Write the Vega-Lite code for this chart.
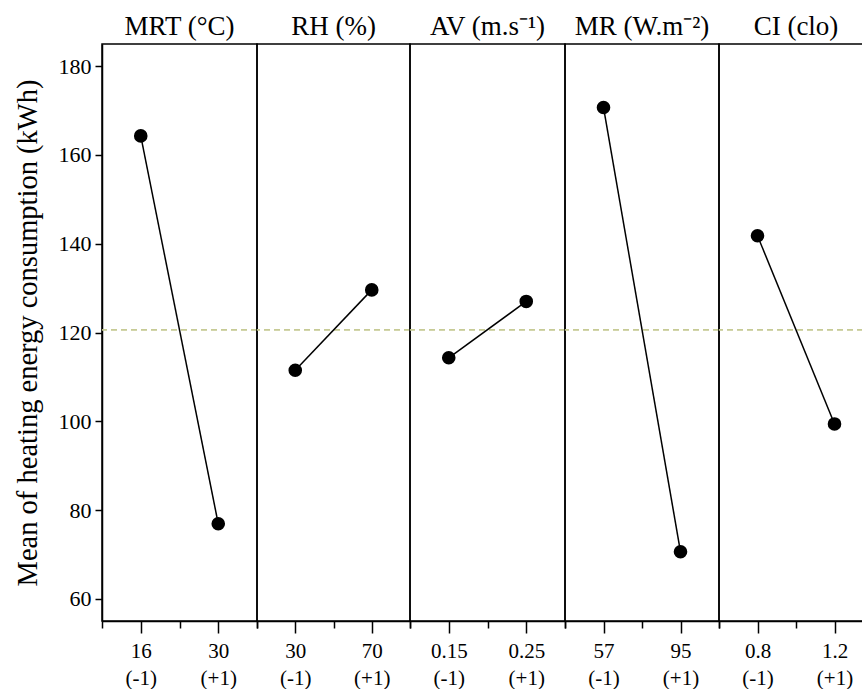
{
  "$schema": "https://vega.github.io/schema/vega-lite/v6.json",
  "background": "white",
  "padding": {"left": 12, "top": 12, "right": 0, "bottom": 0},
  "spacing": 0,
  "bounds": "flush",
  "datasets": {
    "effects": [
      {"factor": "MRT", "code": -1, "level": "16", "value": 164.3},
      {"factor": "MRT", "code": 1, "level": "30", "value": 76.9},
      {"factor": "RH", "code": -1, "level": "30", "value": 111.5},
      {"factor": "RH", "code": 1, "level": "70", "value": 129.6},
      {"factor": "AV", "code": -1, "level": "0.15", "value": 114.3},
      {"factor": "AV", "code": 1, "level": "0.25", "value": 127.0},
      {"factor": "MR", "code": -1, "level": "57", "value": 170.7},
      {"factor": "MR", "code": 1, "level": "95", "value": 70.6},
      {"factor": "CI", "code": -1, "level": "0.8", "value": 141.8},
      {"factor": "CI", "code": 1, "level": "1.2", "value": 99.4}
    ]
  },
  "data": {"name": "effects"},
  "hconcat": [
    {
      "width": 155, "height": 577,
      "title": {"text": "MRT (°C)"},
      "transform": [{"filter": "datum.factor == 'MRT'"}],
      "encoding": {
        "x": {"field": "code", "type": "quantitative", "scale": {"domain": [-2, 2]},
              "axis": {"values": [-1, 1], "title": null, "tickSize": 12, "labelExpr": "datum.value < 0 ? ['16', '(-1)'] : ['30', '(+1)']"}},
        "y": {"field": "value", "type": "quantitative", "scale": {"domain": [55, 185], "nice": false, "zero": false},
              "axis": {"values": [60, 80, 100, 120, 140, 160, 180], "title": "Mean of heating energy consumption (kWh)", "tickSize": 7, "titlePadding": 16}}
      },
      "layer": [
        {"mark": {"type": "rule", "color": "#c3c790", "strokeDash": [6, 4], "strokeWidth": 1.2},
         "encoding": {"x": null, "y": {"datum": 120.6, "type": "quantitative",
              "axis": {"values": [60, 80, 100, 120, 140, 160, 180], "title": "Mean of heating energy consumption (kWh)", "tickSize": 7, "titlePadding": 16}}}},
        {"mark": {"type": "line", "color": "black", "strokeWidth": 1.5}},
        {"mark": {"type": "point", "filled": true, "color": "black", "size": 185, "opacity": 1},
         "encoding": {"x": {"field": "code", "type": "quantitative", "axis": {"values": [-2, 0, 2], "title": null, "labels": false, "domain": false, "tickSize": 7, "orient": "bottom"}}}}
      ],
      "resolve": {"axis": {"x": "independent"}}
    },
    {
      "width": 153, "height": 577,
      "title": {"text": "RH (%)"},
      "transform": [{"filter": "datum.factor == 'RH'"}],
      "encoding": {
        "x": {"field": "code", "type": "quantitative", "scale": {"domain": [-2, 2]},
              "axis": {"values": [-1, 1], "title": null, "tickSize": 12, "labelExpr": "datum.value < 0 ? ['30', '(-1)'] : ['70', '(+1)']"}},
        "y": {"field": "value", "type": "quantitative", "scale": {"domain": [55, 185], "nice": false, "zero": false}, "axis": null}
      },
      "layer": [
        {"mark": {"type": "rule", "color": "#c3c790", "strokeDash": [6, 4], "strokeWidth": 1.2},
         "encoding": {"x": null, "y": {"datum": 120.6, "type": "quantitative", "axis": null}}},
        {"mark": {"type": "line", "color": "black", "strokeWidth": 1.5}},
        {"mark": {"type": "point", "filled": true, "color": "black", "size": 185, "opacity": 1},
         "encoding": {"x": {"field": "code", "type": "quantitative", "axis": {"values": [-2, 0, 2], "title": null, "labels": false, "domain": false, "tickSize": 7, "orient": "bottom"}}}}
      ],
      "resolve": {"axis": {"x": "independent"}}
    },
    {
      "width": 155, "height": 577,
      "title": {"text": "AV (m.s⁻¹)"},
      "transform": [{"filter": "datum.factor == 'AV'"}],
      "encoding": {
        "x": {"field": "code", "type": "quantitative", "scale": {"domain": [-2, 2]},
              "axis": {"values": [-1, 1], "title": null, "tickSize": 12, "labelExpr": "datum.value < 0 ? ['0.15', '(-1)'] : ['0.25', '(+1)']"}},
        "y": {"field": "value", "type": "quantitative", "scale": {"domain": [55, 185], "nice": false, "zero": false}, "axis": null}
      },
      "layer": [
        {"mark": {"type": "rule", "color": "#c3c790", "strokeDash": [6, 4], "strokeWidth": 1.2},
         "encoding": {"x": null, "y": {"datum": 120.6, "type": "quantitative", "axis": null}}},
        {"mark": {"type": "line", "color": "black", "strokeWidth": 1.5}},
        {"mark": {"type": "point", "filled": true, "color": "black", "size": 185, "opacity": 1},
         "encoding": {"x": {"field": "code", "type": "quantitative", "axis": {"values": [-2, 0, 2], "title": null, "labels": false, "domain": false, "tickSize": 7, "orient": "bottom"}}}}
      ],
      "resolve": {"axis": {"x": "independent"}}
    },
    {
      "width": 154, "height": 577,
      "title": {"text": "MR (W.m⁻²)"},
      "transform": [{"filter": "datum.factor == 'MR'"}],
      "encoding": {
        "x": {"field": "code", "type": "quantitative", "scale": {"domain": [-2, 2]},
              "axis": {"values": [-1, 1], "title": null, "tickSize": 12, "labelExpr": "datum.value < 0 ? ['57', '(-1)'] : ['95', '(+1)']"}},
        "y": {"field": "value", "type": "quantitative", "scale": {"domain": [55, 185], "nice": false, "zero": false}, "axis": null}
      },
      "layer": [
        {"mark": {"type": "rule", "color": "#c3c790", "strokeDash": [6, 4], "strokeWidth": 1.2},
         "encoding": {"x": null, "y": {"datum": 120.6, "type": "quantitative", "axis": null}}},
        {"mark": {"type": "line", "color": "black", "strokeWidth": 1.5}},
        {"mark": {"type": "point", "filled": true, "color": "black", "size": 185, "opacity": 1},
         "encoding": {"x": {"field": "code", "type": "quantitative", "axis": {"values": [-2, 0, 2], "title": null, "labels": false, "domain": false, "tickSize": 7, "orient": "bottom"}}}}
      ],
      "resolve": {"axis": {"x": "independent"}}
    },
    {
      "width": 154, "height": 577,
      "title": {"text": "CI (clo)"},
      "transform": [{"filter": "datum.factor == 'CI'"}],
      "encoding": {
        "x": {"field": "code", "type": "quantitative", "scale": {"domain": [-2, 2]},
              "axis": {"values": [-1, 1], "title": null, "tickSize": 12, "labelExpr": "datum.value < 0 ? ['0.8', '(-1)'] : ['1.2', '(+1)']"}},
        "y": {"field": "value", "type": "quantitative", "scale": {"domain": [55, 185], "nice": false, "zero": false}, "axis": null}
      },
      "layer": [
        {"mark": {"type": "rule", "color": "#c3c790", "strokeDash": [6, 4], "strokeWidth": 1.2},
         "encoding": {"x": null, "y": {"datum": 120.6, "type": "quantitative", "axis": null}}},
        {"mark": {"type": "line", "color": "black", "strokeWidth": 1.5}},
        {"mark": {"type": "point", "filled": true, "color": "black", "size": 185, "opacity": 1},
         "encoding": {"x": {"field": "code", "type": "quantitative", "axis": {"values": [-2, 0, 2], "title": null, "labels": false, "domain": false, "tickSize": 7, "orient": "bottom"}}}}
      ],
      "resolve": {"axis": {"x": "independent"}}
    }
  ],
  "config": {
    "font": "Liberation Serif",
    "view": {"stroke": "black", "strokeWidth": 1.5},
    "axis": {
      "grid": false,
      "domainColor": "black", "domainWidth": 1.5,
      "tickColor": "black", "tickWidth": 1.5,
      "labelColor": "black", "labelFont": "Liberation Serif", "labelFontSize": 21,
      "titleColor": "black", "titleFont": "Liberation Serif", "titleFontSize": 28.5, "titleFontWeight": "normal"
    },
    "axisX": {"labelPadding": 7, "labelLineHeight": 27, "labelFlush": false, "labelOverlap": false},
    "axisY": {"labelFontSize": 22, "labelPadding": 4},
    "title": {"font": "Liberation Serif", "fontSize": 27, "fontWeight": "normal", "color": "black", "anchor": "middle", "offset": 3}
  }
}
